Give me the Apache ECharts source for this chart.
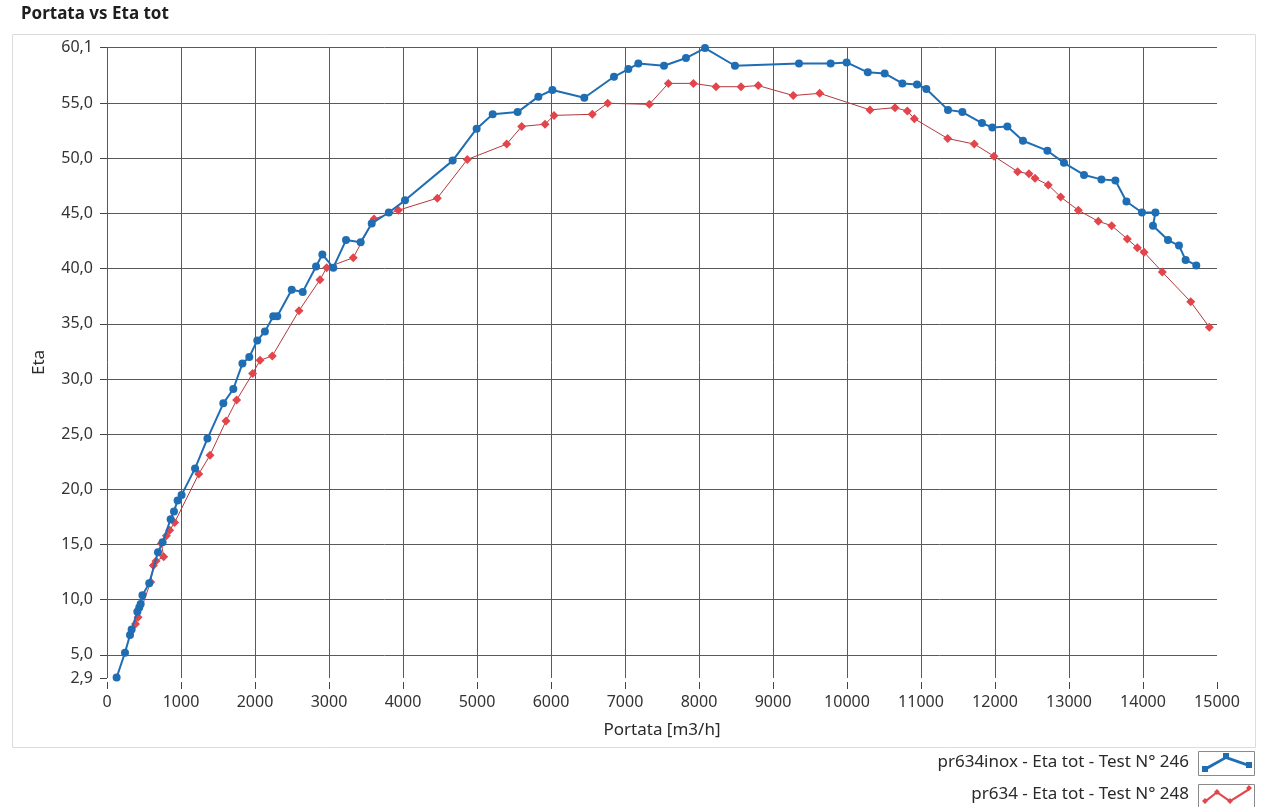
<!DOCTYPE html>
<html>
<head>
<meta charset="utf-8">
<script src="https://cdn.jsdelivr.net/npm/echarts@6/dist/echarts.min.js"></script>
<style>html,body{margin:0;padding:0;background:#fff;}#chart{width:1268px;height:807px;}</style>
</head>
<body>
<div id="chart"></div>
<script>
// ---- data ----
const titleText = 'Portata vs Eta tot';
const xName = 'Portata [m3/h]';
const yName = 'Eta';
const yTickValues = [2.9, 5, 10, 15, 20, 25, 30, 35, 40, 45, 50, 55, 60.1];

const seriesAName = 'pr634inox - Eta tot - Test N° 246';
const seriesAX = [130, 243, 311, 333, 410, 436, 455, 479, 571, 689, 751, 860, 905, 954, 1008, 1190, 1357, 1572, 1707, 1830,
  1923, 2031, 2134, 2247, 2301, 2496, 2645, 2825, 2910, 3058, 3230, 3428, 3577, 3808, 4027, 4671, 4995, 5212, 5549, 5829,
  6019, 6450, 6851, 7045, 7180, 7527, 7824, 8081, 8486, 9351, 9779, 9995, 10281, 10509, 10748, 10946, 11072, 11365, 11559, 11824,
  11964, 12167, 12378, 12708, 12932, 13203, 13438, 13627, 13776, 13986, 14168, 14135, 14338, 14486, 14576, 14720];
const seriesAY = [2.95, 5.2, 6.8, 7.3, 8.9, 9.3, 9.6, 10.4, 11.5, 14.3, 15.2, 17.3, 18.0, 19.0, 19.5, 21.9, 24.6, 27.8, 29.1, 31.4,
  32.0, 33.5, 34.3, 35.7, 35.7, 38.1, 37.9, 40.2, 41.3, 40.1, 42.6, 42.4, 44.1, 45.1, 46.2, 49.8, 52.7, 54.0, 54.2, 55.6,
  56.2, 55.5, 57.4, 58.1, 58.6, 58.4, 59.1, 60.0, 58.4, 58.6, 58.6, 58.7, 57.8, 57.7, 56.8, 56.7, 56.3, 54.4, 54.2, 53.2,
  52.8, 52.9, 51.6, 50.7, 49.6, 48.5, 48.1, 48.0, 46.1, 45.1, 45.1, 43.9, 42.6, 42.1, 40.8, 40.3];

const seriesBName = 'pr634 - Eta tot - Test N° 248';
const seriesBX = [385, 420, 590, 626, 662, 766, 735, 802, 847, 914, 1240, 1392, 1608, 1752, 1968, 2068, 2234, 2595, 2878, 2969,
  3328, 3608, 3937, 4464, 4869, 5401, 5604, 5919, 6041, 6558, 6766, 7329, 7586, 7924, 8230, 8568, 8801, 9274, 9631, 10311,
  10649, 10815, 10910, 11361, 11720, 11986, 12306, 12459, 12541, 12720, 12888, 13126, 13396, 13577, 13788, 13923, 14014, 14261, 14645, 14896];
const seriesBY = [7.8, 8.4, 11.6, 13.1, 13.5, 13.9, 15.1, 15.8, 16.3, 17.0, 21.4, 23.1, 26.2, 28.1, 30.5, 31.7, 32.1, 36.2, 39.0, 40.1,
  41.0, 44.5, 45.3, 46.4, 49.9, 51.3, 52.9, 53.1, 53.9, 54.0, 55.0, 54.9, 56.8, 56.8, 56.5, 56.5, 56.6, 55.7, 55.9, 54.4,
  54.6, 54.3, 53.6, 51.8, 51.3, 50.2, 48.8, 48.6, 48.2, 47.6, 46.5, 45.3, 44.3, 43.9, 42.7, 41.9, 41.5, 39.7, 37.0, 34.7];

// ---- chart ----
const pairs = (xs, ys) => xs.map((x, i) => [x, ys[i]]);
const FONT = "'Noto Sans', 'Open Sans', sans-serif";
const GRID = '#5a5a5a';
const blue = '#1f6db3';
const redM = '#e2454b';
const redL = '#b2393e';

const yLineColors = yTickValues.map((v, i) => i === 0 ? 'rgba(0,0,0,0)' : GRID);
const xLineColors = [];
for (let i = 0; i <= 15; i++) xLineColors.push(i === 15 ? 'rgba(0,0,0,0)' : GRID);

const iconA = 'path://M2,16 L24,4 L47,12 L47,15 L24,7 L3,19 Z M0,14 h6 v6 h-6 Z M21,1 h6 v6 h-6 Z M44,10 h6 v6 h-6 Z';
const iconB = 'path://M2,17 L15,7 L28,16 L47,4 L48,6 L28,18.5 L15,9.5 L3,19 Z M3,14 l3,3 l-3,3 l-3,-3 Z M15,5 l3,3 l-3,3 l-3,-3 Z M28,14 l3,3 l-3,3 l-3,-3 Z M47,1 l3,3 l-3,3 l-3,-3 Z';

const chart = echarts.init(document.getElementById('chart'), null, {renderer: 'canvas'});
chart.setOption({
  backgroundColor: '#fff',
  animation: false,
  textStyle: {fontFamily: FONT},
  title: {
    text: titleText, left: 21, top: 6, padding: 0,
    textStyle: {fontSize: 17, fontWeight: 'bold', color: '#1e1e1e', fontFamily: FONT}
  },
  graphic: [
    {type: 'rect', left: 10, top: 32, shape: {width: 1243, height: 713}, style: {fill: 'none', stroke: '#dcdcdc', lineWidth: 1}, silent: true, z: -1},
    {type: 'rect', shape: {x: 1198.5, y: 751.5, width: 56, height: 24}, style: {fill: 'none', stroke: '#8a8a8a', lineWidth: 1}, silent: true},
    {type: 'rect', shape: {x: 1198.5, y: 784.5, width: 56, height: 24}, style: {fill: 'none', stroke: '#8a8a8a', lineWidth: 1}, silent: true}
  ],
  grid: {left: 107, right: 51, top: 47, bottom: 129, containLabel: false},
  xAxis: {
    type: 'value', min: 0, max: 15000, interval: 1000,
    offset: 4,
    name: xName, nameLocation: 'middle', nameGap: 40,
    nameTextStyle: {fontSize: 17, color: '#2a2a2a', fontFamily: FONT},
    axisLine: {show: false},
    axisTick: {show: true, length: 7, lineStyle: {color: '#444'}},
    axisLabel: {margin: 12, fontSize: 16, color: '#333', fontFamily: FONT, formatter: v => String(v)},
    splitLine: {show: true, lineStyle: {color: xLineColors, width: 1}}
  },
  yAxis: {
    type: 'value', min: 2.9, max: 60.1,
    offset: 4,
    name: yName, nameLocation: 'middle', nameGap: 55, nameRotate: 90,
    nameTextStyle: {fontSize: 17, color: '#2a2a2a', fontFamily: FONT},
    axisLine: {show: false},
    axisTick: {show: true, length: 7, customValues: yTickValues, lineStyle: {color: '#444'}},
    axisLabel: {margin: 10, fontSize: 16, color: '#333', fontFamily: FONT, customValues: yTickValues,
      formatter: v => Number(v).toFixed(1).replace('.', ',')},
    splitLine: {show: true, lineStyle: {color: yLineColors, width: 1}}
  },
  legend: {
    orient: 'vertical', right: 16, top: 753, align: 'right', padding: 0,
    itemWidth: 50, itemHeight: 20, itemGap: 13,
    textStyle: {fontSize: 17, color: '#2a2a2a', fontFamily: FONT, padding: [0, 8, 0, 0]},
    data: [
      {name: seriesAName, icon: iconA},
      {name: seriesBName, icon: iconB}
    ]
  },
  series: [
    {
      name: seriesBName, type: 'line', data: pairs(seriesBX, seriesBY),
      symbol: 'diamond', symbolSize: 9, clip: true,
      lineStyle: {color: redL, width: 1},
      itemStyle: {color: redM},
      z: 2
    },
    {
      name: seriesAName, type: 'line', data: pairs(seriesAX, seriesAY),
      symbol: 'circle', symbolSize: 8, clip: false,
      lineStyle: {color: blue, width: 2},
      itemStyle: {color: blue},
      z: 3
    }
  ]
});
</script>
</body>
</html>
